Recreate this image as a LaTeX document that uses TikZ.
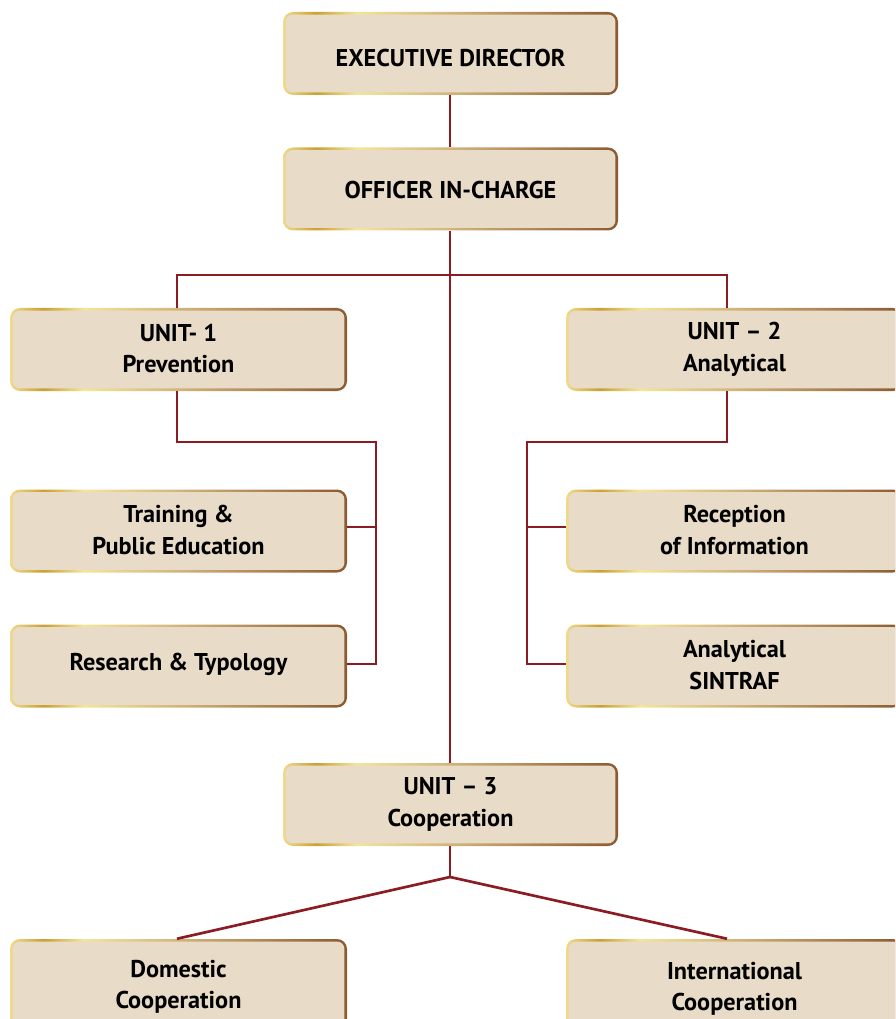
\documentclass[tikz,border=0pt]{standalone}
\usepackage{fontspec}
\setmainfont{PT Sans}
\definecolor{boxfill}{HTML}{E8DBC7}
\definecolor{linered}{HTML}{8B1C24}
\definecolor{gA}{HTML}{EEDB8C}
\definecolor{gB}{HTML}{C9A032}
\definecolor{gC}{HTML}{F3E59C}
\definecolor{gD}{HTML}{D2B47A}
\definecolor{gE}{HTML}{8A5A30}
\pgfdeclarehorizontalshading{goldborder}{100bp}{color(0bp)=(gA); color(25bp)=(gA); color(30bp)=(gB); color(36bp)=(gC); color(50bp)=(gD); color(75bp)=(gE); color(100bp)=(gE)}
\newcommand\boxstrut{\rule[-1.9pt]{0pt}{18.7pt}}
\begin{document}
\begin{tikzpicture}[x=0.75pt,y=-0.75pt,
  box/.style={shading=goldborder, rounded corners=7.5pt, minimum height=62.25pt, inner sep=0pt,
    align=center, font=\fontsize{18.2}{23.6}\selectfont\bfseries,
    execute at begin node=\boxstrut, execute at end node=\boxstrut,
    path picture={\fill[boxfill, rounded corners=5.6pt]
      ([shift={(1.9pt,1.9pt)}]path picture bounding box.south west) rectangle
      ([shift={(-1.9pt,-1.9pt)}]path picture bounding box.north east);}},
  cbox/.style={box, minimum width=251.25pt},
  sbox/.style={box, minimum width=252.75pt},
  conn/.style={draw=linered, line width=2pt}]
\useasboundingbox (0,0) rectangle (895,1019);
\clip (0,0) rectangle (895,1019);
% nodes
\node[cbox] (ed) at (450.5,53.5) {\raisebox{-3pt}{EXECUTIVE DIRECTOR}};
\node[cbox] (oic) at (450.5,189) {OFFICER IN-CHARGE};
\node[sbox] (u1) at (178.5,349.5) {UNIT- 1\\Prevention};
\node[sbox] (u2) at (734.5,349.5) {UNIT -- 2\\Analytical};
\node[sbox] (tr) at (178.5,531) {Training \&\\Public Education};
\node[sbox] (rs) at (178.5,666) {\raisebox{4.1pt}{Research \& Typology}};
\node[sbox] (rc) at (734.5,531) {Reception\\of Information};
\node[sbox] (an) at (734.5,666) {Analytical\\SINTRAF};
\node[cbox] (u3) at (450.5,804.5) {UNIT -- 3\\Cooperation};
\node[sbox, minimum height=72pt] (dom) at (178.5,987) {Domestic\\Cooperation};
\node[sbox, minimum height=75pt] (int) at (734.5,989) {International\\Cooperation};
% junction coordinates
\coordinate (bus) at (450,275);
\coordinate (lx) at (177,0);
\coordinate (rx) at (727,0);
\coordinate (j1) at (376,442);
\coordinate (j2) at (527,442);
\coordinate (b1) at (0,527);
\coordinate (b2) at (0,664);
\coordinate (fork) at (450,877);
% connectors
\draw[conn] (ed.south -| bus) -- (oic.north -| bus);
\draw[conn] (oic.south -| bus) -- (u3.north -| bus);
\draw[conn] (lx |- u1.north) -- (lx |- bus) -- (rx |- bus) -- (rx |- u2.north);
\draw[conn] (lx |- u1.south) -- (lx |- j1) -- (j1) -- (j1 |- b2) -- (rs.east |- b2);
\draw[conn] (j1 |- b1) -- (tr.east |- b1);
\draw[conn] (rx |- u2.south) -- (rx |- j2) -- (j2) -- (j2 |- b2) -- (an.west |- b2);
\draw[conn] (j2 |- b1) -- (rc.west |- b1);
\draw[conn] (u3.south -| fork) -- (fork);
\draw[conn] (fork) -- (lx |- dom.north);
\draw[conn] (fork) -- (rx |- int.north);
\end{tikzpicture}
\end{document}
